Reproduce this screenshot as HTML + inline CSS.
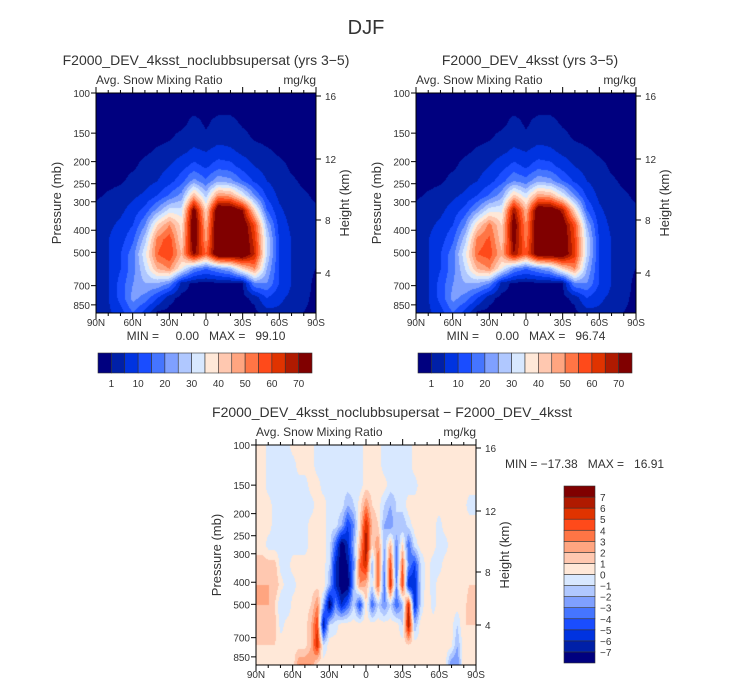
<!DOCTYPE html>
<html><head><meta charset="utf-8"><style>
html,body{margin:0;padding:0;background:#fff;}
#root{position:relative;width:733px;height:689px;overflow:hidden;font-family:"Liberation Sans",sans-serif;}
canvas{position:absolute;}
svg{position:absolute;left:0;top:0;}
text{white-space:pre;}
</style></head><body>
<div id="root">
<canvas id="c1" width="220" height="220" style="left:96px;top:93px"></canvas>
<canvas id="c2" width="220" height="220" style="left:416px;top:93px"></canvas>
<canvas id="c3" width="220" height="220" style="left:256px;top:445px"></canvas>
<svg id="s" width="733" height="689"></svg>
</div>
<script>
// ---- data ----
const latLabels=["90N","60N","30N","0","30S","60S","90S"];
const presTicks=[100,150,200,250,300,400,500,700,850];
const heightTicks=[16,12,8,4];
const snowLevels=[1,5,10,15,20,25,30,35,40,45,50,55,60,65,70];
const snowLabels=["1","10","20","30","40","50","60","70"];
const diffLevels=[-7,-6,-5,-4,-3,-2,-1,0,1,2,3,4,5,6,7];
const colors=["#00007f","#0020a8","#0033e0","#1a4dff","#4575ff","#7fa0ff","#b0c8ff","#d8e8ff","#ffe8d8","#ffc8b0","#ffa580","#ff7545","#ff4a1a","#e03300","#b01a00","#800000"];
const snowGridA=[
[0,0,0,0,0,0,0,0,0,0,0,0,0,0,0,0,0,0,0],
[0,0,0,0,0,0,0,0,0,0,0,0,0,0,0,0,0,0,0],
[0,0,0,0,0,0,0,0,2,0.5,2,2,0.5,0,0,0,0,0,0],
[0,0,0,0,0,0,0.5,2,3,1.5,3,3,2,0.5,0,0,0,0,0],
[0,0,0,0,0.5,1.5,2.5,4,6,5,7,6,4,2.5,1.5,0.5,0,0,0],
[0,0,0,0.5,2,3,5,8,12,9,13,12,8,5,3,2,0.5,0,0],
[0,0,0.5,2,3,5,8,13,22,16,24,22,15,9,5,2.5,1.5,0.5,0],
[0.5,1.5,2.5,4,6,10,16,22,45,28,50,48,35,20,9,4,2,1.5,0.5],
[2,3,4,7,12,22,32,32,75,40,80,80,70,40,15,6,3,2,1.5],
[3,4,6,10,20,40,50,38,80,45,82,82,78,58,25,8,4,2.5,1.5],
[3,5,8,14,28,52,58,40,78,48,82,82,80,62,30,10,5,3,2],
[3,5,10,18,34,55,60,45,72,55,80,80,80,65,30,10,5,3,2],
[3,5,10,18,30,45,50,35,20,15,20,25,40,50,25,10,5,3,1],
[3,5,12,20,25,25,20,3,0,0,0,0,0,20,20,10,5,3,0],
[3,5,12,22,18,10,2,0,0,0,0,0,0,2,10,6,4,2,0],
[3,4,8,15,8,0,0,0,0,0,0,0,0,0,3,4,3,1,0]];
const snowGridB=[
[0,0,0,0,0,0,0,0,0,0,0,0,0,0,0,0,0,0,0],
[0,0,0,0,0,0,0,0,0,0,0,0,0,0,0,0,0,0,0],
[0,0,0,0,0,0,0,0,2,0.5,2,2,0.5,0,0,0,0,0,0],
[0,0,0,0,0,0,0.5,2,3,1.5,3,3,2,0.5,0,0,0,0,0],
[0,0,0,0,0.5,1.5,2.5,4,6,5,7,6,4,2.5,1.5,0.5,0,0,0],
[0,0,0,0.5,2,3,5,8,12,9,13,12,8,5,3,2,0.5,0,0],
[0,0,0.5,2,3,5,8,13,20,17,24,22,15,9,5,2.5,1.5,0.5,0],
[0.5,1.5,2.5,4,6,10,16,23,42,32,48,46,34,20,9,4,2,1.5,0.5],
[2,3,4,7,12,22,33,34,70,45,78,78,68,40,15,6,3,2,1.5],
[3,4,6,10,20,40,52,40,76,50,80,80,76,58,25,8,4,2.5,1.5],
[3,5,8,14,28,52,56,42,74,52,80,80,78,60,30,10,5,3,2],
[3,5,10,18,34,55,58,46,70,56,78,78,78,62,30,10,5,3,2],
[3,5,10,18,30,45,50,35,20,15,20,25,40,50,25,10,5,3,1],
[3,5,12,20,25,25,20,3,0,0,0,0,0,20,20,10,5,3,0],
[3,5,12,22,18,10,2,0,0,0,0,0,0,2,10,6,4,2,0],
[3,4,8,15,8,0,0,0,0,0,0,0,0,0,3,4,3,1,0]];
const diffGrid=[
[.5,.5,-.5,-.5,-.5,-.5,.5,.5,.5,.5,-.5,-.5,-.5,-.5,-.5,-.5,-.5,-.5,.5,.5,.5,-.5,-.5,-.5,-.5,-.5,.5,.5,.5,.5,.5,.5,.5,.5,.5,.5,.5],
[.5,.5,-.5,-.5,-.5,-.5,-.5,.5,.5,.5,-.5,-.5,-.5,-.5,-.5,-.5,-.5,-.5,.5,.5,.5,-.5,-.5,-.5,-.5,-.5,.5,.5,.5,.5,.5,.5,.5,.5,.5,.5,.5],
[.5,.5,-.5,-.5,-.5,-.5,-.5,-.5,-.5,.5,.5,-.5,-.5,-.5,-.5,-.5,-.5,-.5,.5,.5,.5,.5,-.5,-.5,-.5,-.5,-.5,.5,.5,.5,.5,.5,.5,.5,.5,.5,.5],
[.5,.5,.5,-.5,-.5,-.5,-.5,-.5,-.5,-.5,.5,.5,-.5,-.5,-.5,-2,-1,.5,3,1,.5,-1,-2,-1,-.5,.5,.5,.5,.5,.5,.5,.5,.5,.5,.5,-.5,-.5],
[.5,.5,.5,-.5,-.5,-.5,-.5,-.5,-.5,.5,.5,.5,-.5,-.5,-2,-5,-3,1,6,2,1,-2,-3,-1,-2,-.5,.5,.5,.5,.5,-.5,.5,.5,.5,.5,.5,.5],
[.5,.5,-.5,-.5,-.5,-.5,-.5,-.5,-.5,.5,.5,.5,-.5,-4,-8,-6,-2,2,7,1,3,-2,2,-3,1,-4,-.5,.5,.5,.5,-.5,-.5,.5,.5,.5,.5,.5],
[1.5,1.5,1.5,1.5,-.5,-.5,.5,.5,.5,.5,.5,.5,-1,-6,-8,-7,-3,4,6,-2,4,-3,5,-4,4,-3,-5,-1,.5,-.5,-.5,.5,.5,.5,.5,.5,.5],
[2,2,2,2,.5,-.5,-.5,.5,.5,.5,.5,1,-2,-6,-8,-8,-2,3,2,-1,4,-4,6,-3,5,-6,-6,-1,.5,-.5,.5,.5,.5,.5,.5,1,1],
[2,2,2,1,-1,-1,.5,.5,.5,1,3,-2,-8,-3,-6,-4,-1,-5,1,-4,-1,-3,-1,-4,-2,6,-6,-1,1,-.5,.5,.5,.5,.5,.5,1.5,1.5],
[1.5,1.5,1.5,1.5,-.5,.5,.5,.5,.5,2,5,-7,-1,-.5,.5,.5,.5,.5,.5,.5,.5,.5,.5,.5,-1,7,-2,.5,1,.5,.5,.5,.5,-1,1,1,1],
[1,1,1,1,.5,.5,.5,.5,.5,2,6,-1,.5,.5,.5,.5,.5,.5,.5,.5,.5,.5,.5,.5,.5,1,.5,.5,.5,.5,.5,.5,.5,-2,.5,.5,.5],
[.5,.5,.5,.5,.5,.5,.5,3,3,3,.5,.5,.5,.5,.5,.5,.5,.5,.5,.5,.5,.5,.5,.5,.5,.5,.5,.5,.5,.5,.5,.5,-3,-3,.5,.5,.5]];

// ---- render contour fills ----
function hex(c){return [parseInt(c.slice(1,3),16),parseInt(c.slice(3,5),16),parseInt(c.slice(5,7),16)];}
const rgb=colors.map(hex);
function levelIndex(v,lev){let i=0;while(i<lev.length&&v>=lev[i])i++;return i;}
function fill(id,grid,lev){
  const cv=document.getElementById(id),ctx=cv.getContext('2d');
  const W=cv.width,H=cv.height,img=ctx.createImageData(W,H);
  const R=grid.length,C=grid[0].length;
  for(let y=0;y<H;y++){const gy=y/(H-1)*(R-1),r0=Math.min(Math.floor(gy),R-2),fy=gy-r0;
    for(let x=0;x<W;x++){const gx=x/(W-1)*(C-1),c0=Math.min(Math.floor(gx),C-2),fx=gx-c0;
      const v=(grid[r0][c0]*(1-fx)+grid[r0][c0+1]*fx)*(1-fy)+(grid[r0+1][c0]*(1-fx)+grid[r0+1][c0+1]*fx)*fy;
      const col=rgb[levelIndex(v,lev)],k=(y*W+x)*4;
      img.data[k]=col[0];img.data[k+1]=col[1];img.data[k+2]=col[2];img.data[k+3]=255;}}
  ctx.putImageData(img,0,0);
}
fill('c1',snowGridA,snowLevels);
fill('c2',snowGridB,snowLevels);
fill('c3',diffGrid,diffLevels);

// ---- annotations ----
const S=document.getElementById('s');const NS='http://www.w3.org/2000/svg';
function el(tag,attrs,text){const e=document.createElementNS(NS,tag);for(const k in attrs)e.setAttribute(k,attrs[k]);if(text!==undefined)e.textContent=text;S.appendChild(e);return e;}
function txt(x,y,s,size,anchor,name,rot){const a={x:x,y:y,'font-size':size,'text-anchor':anchor||'start',fill:'#333','font-family':'Liberation Sans, sans-serif'};if(rot)a.transform='rotate(-90 '+x+' '+y+')';const t=el('text',a,s);


return t;}
function line(x1,y1,x2,y2,name){const l=el('line',{x1:x1,y1:y1,x2:x2,y2:y2,stroke:'#000','stroke-width':1});

}
function yP(p,top){return top+99*Math.log(p/100);}
const hPix=[96,159,220,273];
function panel(L,T,title,tx){
  txt(tx,T-28,title,14,'middle','panel-title');
  txt(L,T-9,'Avg. Snow Mixing Ratio',12,'start','variable-label');
  txt(L+220,T-9,'mg/kg',12,'end','units-label');
  const r=el('rect',{x:L,y:T,width:220,height:220,fill:'none',stroke:'#000','stroke-width':1});
  
  
  presTicks.forEach(p=>{const y=yP(p,T);line(L-5,y,L,y,'pressure-tick');txt(L-6,y+4,String(p),10,'end','pressure-tick-label');});
  heightTicks.forEach((h,i)=>{const y=T+(hPix[i]-93);line(L+220,y,L+225,y,'height-tick');txt(L+229,y+4,String(h),10,'start','height-tick-label');});
  for(let i=0;i<=18;i++){const x=L+i*220/18,len=(i%3==0)?6:3;line(x,T-len,x,T,'top-tick');line(x,T+220,x,T+220+len,'bottom-tick');}
  latLabels.forEach((s,i)=>txt(L+i*220/6,T+233,s,10,'middle','latitude-label'));
  txt(L-35,T+110,'Pressure (mb)',13,'middle','y-axis-title',true);
  txt(L+253,T+110,'Height (km)',13,'middle','right-axis-title',true);
}
function hbar(L,T){
  colors.forEach((c,i)=>{const r=el('rect',{x:L+i*214/16,y:T,width:214/16,height:20,fill:c,stroke:'#333','stroke-width':0.6});
  
  });
  snowLabels.forEach((s,i)=>txt(L+(1+2*i)*214/16,T+34,s,10,'middle','colorbar-label'));
}
txt(366,34,'DJF',20,'middle','figure-title');
panel(96,93,'F2000_DEV_4ksst_noclubbsupersat (yrs 3−5)',206);
panel(416,93,'F2000_DEV_4ksst (yrs 3−5)',530);
txt(206,340,'MIN =     0.00   MAX =   99.10',12,'middle','min-max-left');
txt(526,340,'MIN =     0.00   MAX =   96.74',12,'middle','min-max-right');
hbar(98,353);hbar(418,353);
panel(256,445,'F2000_DEV_4ksst_noclubbsupersat − F2000_DEV_4ksst',392);
txt(505,468,'MIN = −17.38   MAX =   16.91',12,'start','min-max-diff');
const bh=177/16;
colors.forEach((c,i)=>{const r=el('rect',{x:564,y:486+(15-i)*bh,width:31,height:bh,fill:c,stroke:'#333','stroke-width':0.6});

});
diffLevels.forEach((v,i)=>txt(600,486+(15-i)*bh+4,(v<0?'−':'')+Math.abs(v),10,'start','diff-colorbar-label'));
</script>
</body></html>
